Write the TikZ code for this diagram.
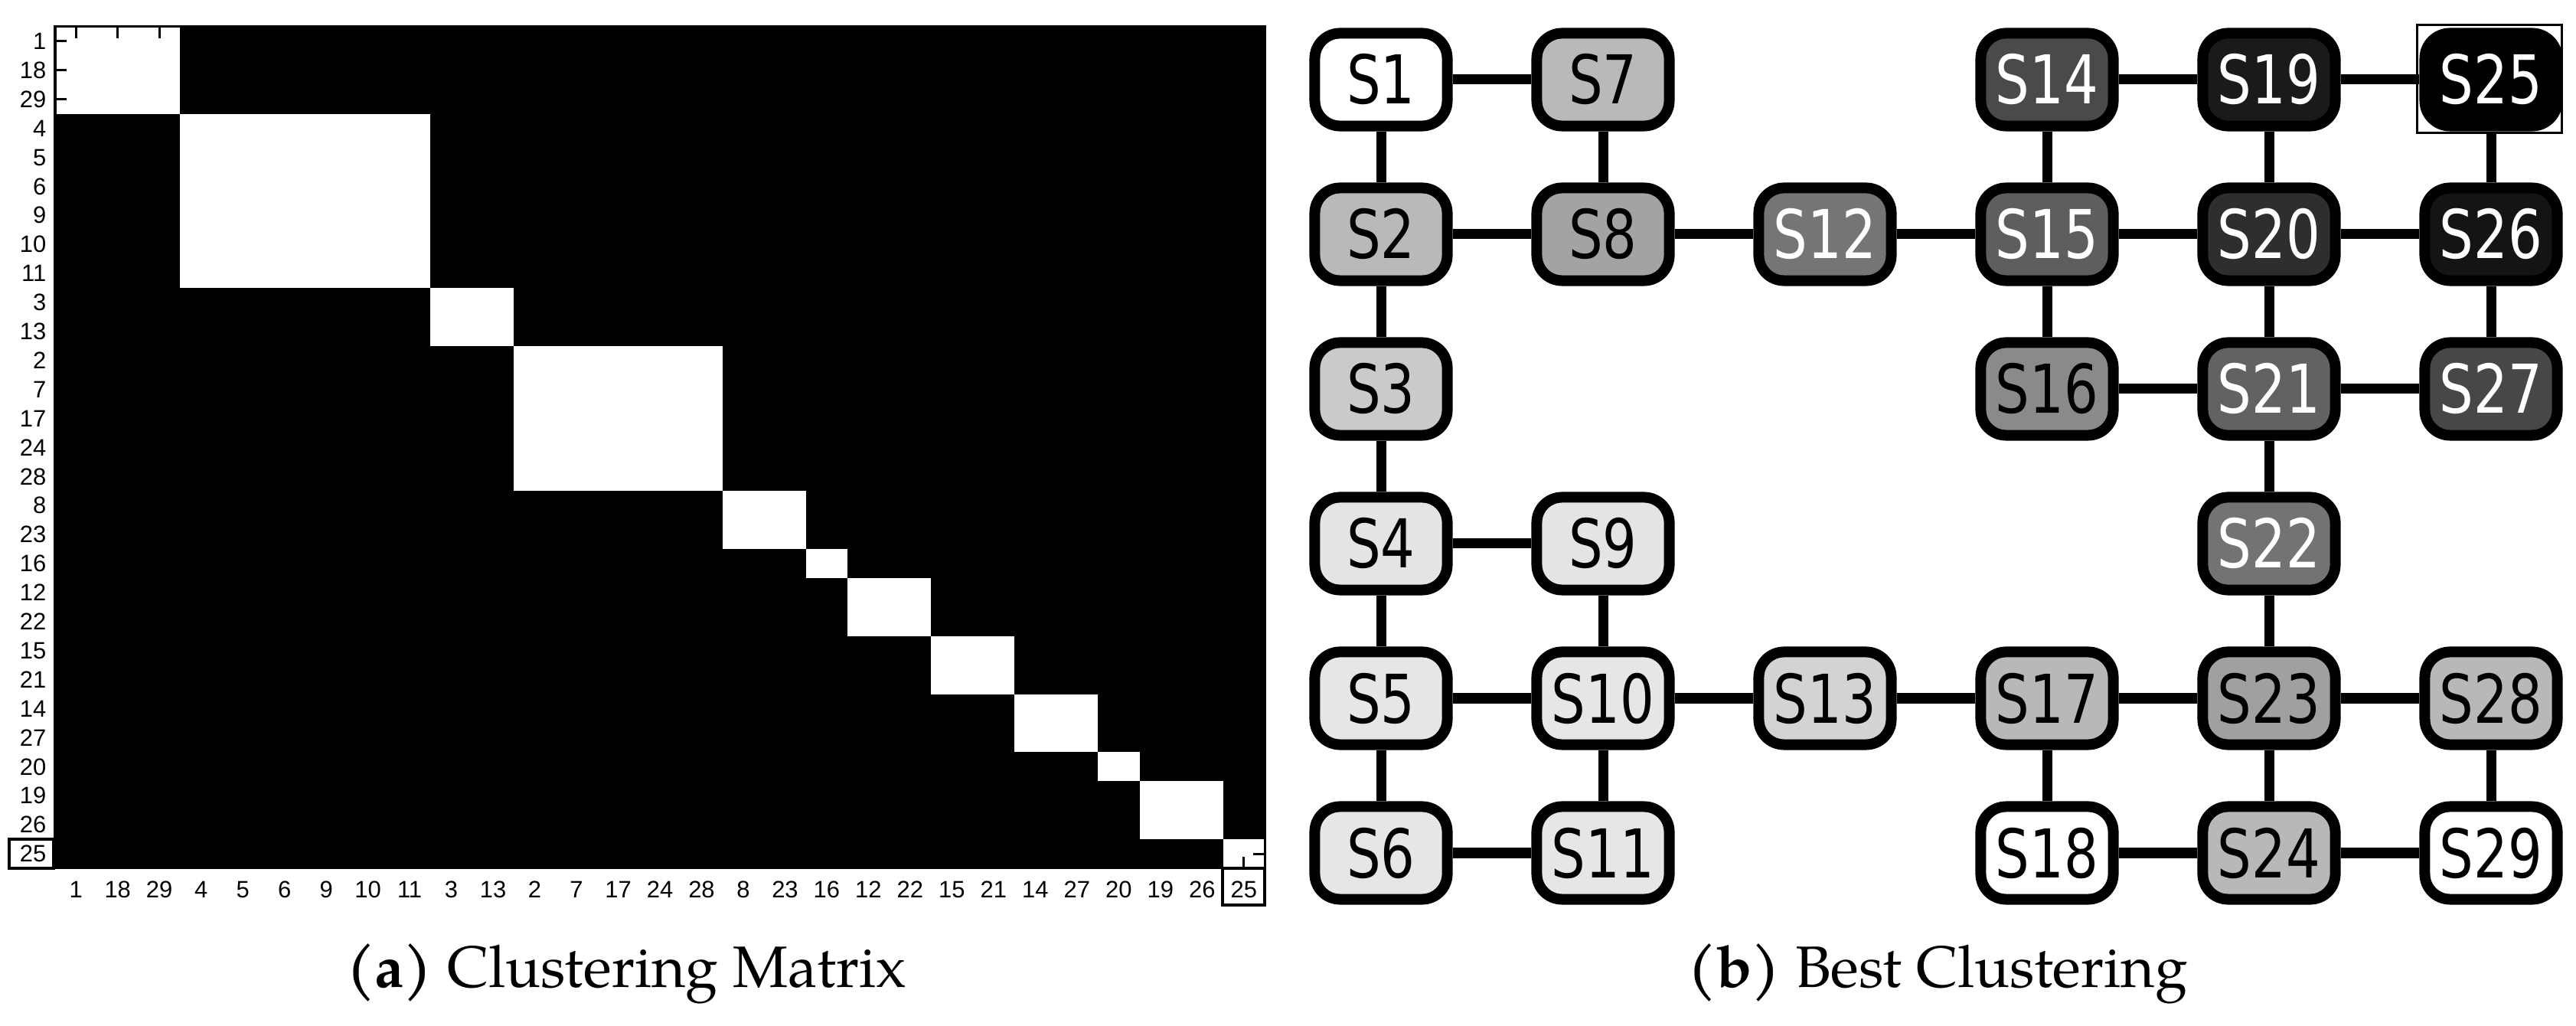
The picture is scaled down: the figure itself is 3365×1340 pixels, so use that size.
\documentclass[tikz,border=0pt]{standalone}
\usepackage{fontspec}
\setmainfont{DejaVu Sans}
\newfontfamily\nodefont{DejaVu Sans}[FakeStretch=0.8]
\newfontfamily\labfont{Liberation Sans}
\newfontfamily\capfont{TeX Gyre Pagella}
\usetikzlibrary{calc}
\tikzset{
  gl/.style={fill={rgb,255:red,#1;green,#1;blue,#1}},
  sn/.style={draw=black, line width=0.14cm, rounded corners=0.33cm,
    minimum width=1.73cm, minimum height=1.21cm, inner sep=0pt,
    font=\nodefont\fontsize{25}{27}\selectfont, text=black},
  wt/.style={text=white},
  ed/.style={line width=0.13cm, black},
  lab/.style={inner sep=0pt, font=\labfont\fontsize{8.8}{9}\selectfont},
  capstyle/.style={inner sep=0pt, font=\capfont\fontsize{21.7}{24}\selectfont},
  tick/.style={line width=0.03cm, black},
  hbox/.style={line width=0.035cm, black}
}
\begin{document}
\begin{tikzpicture}[x=0.01cm, y=-0.01cm]
\useasboundingbox (0,0) rectangle (3365,1340);
\def\cw{54.483}
\def\rh{37.897}
% ---------- clustering matrix ----------
\fill[black] (72,35) rectangle (1652,1134);
\foreach \a/\b in {0/3,3/9,9/11,11/16,16/18,18/19,19/21,21/23,23/25,25/26,26/28,28/29}
  \fill[white] ({72+\a*\cw},{35+\a*\rh}) rectangle ({72+\b*\cw},{35+\b*\rh});
\foreach \i in {0,...,28} {
  \draw[tick] ({72+(\i+0.5)*\cw},35) -- ++(0,15);
  \draw[tick] ({72+(\i+0.5)*\cw},1134) -- ++(0,-15);
  \draw[tick] (72,{35+(\i+0.5)*\rh}) -- ++(15,0);
  \draw[tick] (1652,{35+(\i+0.5)*\rh}) -- ++(-15,0);
}
\draw[tick] (72,35) rectangle (1652,1134);
\foreach \lab [count=\i from 0] in {1,18,29,4,5,6,9,10,11,3,13,2,7,17,24,28,8,23,16,12,22,15,21,14,27,20,19,26,25} {
  \node[lab, anchor=east] (l\i) at (61,{35+(\i+0.5)*\rh}) {\lab};
  \node[lab] (b\i) at ({72+(\i+0.5)*\cw},1162) {\lab};
}
\draw[hbox] (12,1096) rectangle (70,1134);
\draw[hbox] (1597,1134) rectangle (1652,1182);
% ---------- graph ----------
% columns 1804 2094 2384 2674 2964 3254 ; rows 104 306 508 710 912 1114
\node[sn, gl=255] (n1) at (1804,104) {S1};
\node[sn, gl=185] (n2) at (1804,306) {S2};
\node[sn, gl=202] (n3) at (1804,508) {S3};
\node[sn, gl=228] (n4) at (1804,710) {S4};
\node[sn, gl=230] (n5) at (1804,912) {S5};
\node[sn, gl=230] (n6) at (1804,1114) {S6};
\node[sn, gl=185] (n7) at (2094,104) {S7};
\node[sn, gl=163] (n8) at (2094,306) {S8};
\node[sn, gl=228] (n9) at (2094,710) {S9};
\node[sn, gl=230] (n10) at (2094,912) {S10};
\node[sn, gl=230] (n11) at (2094,1114) {S11};
\node[sn, gl=117, wt] (n12) at (2384,306) {S12};
\node[sn, gl=211] (n13) at (2384,912) {S13};
\node[sn, gl=74, wt] (n14) at (2674,104) {S14};
\node[sn, gl=94, wt] (n15) at (2674,306) {S15};
\node[sn, gl=138] (n16) at (2674,508) {S16};
\node[sn, gl=184] (n17) at (2674,912) {S17};
\node[sn, gl=255] (n18) at (2674,1114) {S18};
\node[sn, gl=26, wt] (n19) at (2964,104) {S19};
\node[sn, gl=46, wt] (n20) at (2964,306) {S20};
\node[sn, gl=98, wt] (n21) at (2964,508) {S21};
\node[sn, gl=115, wt] (n22) at (2964,710) {S22};
\node[sn, gl=160] (n23) at (2964,912) {S23};
\node[sn, gl=184] (n24) at (2964,1114) {S24};
\node[sn, gl=0, wt] (n25) at (3254,104) {S25};
\node[sn, gl=20, wt] (n26) at (3254,306) {S26};
\node[sn, gl=71, wt] (n27) at (3254,508) {S27};
\node[sn, gl=184] (n28) at (3254,912) {S28};
\node[sn, gl=255] (n29) at (3254,1114) {S29};
\foreach \p/\q in {1/7,14/19,19/25,2/8,8/12,12/15,15/20,20/26,16/21,21/27,4/9,
  5/10,10/13,13/17,17/23,23/28,6/11,18/24,24/29,
  1/2,2/3,3/4,4/5,5/6,7/8,9/10,10/11,14/15,15/16,17/18,
  19/20,20/21,21/22,22/23,23/24,25/26,26/27,28/29}
  \draw[ed] (n\p) -- (n\q);
\draw[hbox] ($(n25.north west)+(-3,-4)$) rectangle ($(n25.south east)+(-1,2)$);
% ---------- captions ----------
\node[capstyle, anchor=base] (capa) at (818,1290) {\textbf{(a)} Clustering Matrix};
\node[capstyle, anchor=base] (capb) at (2531,1290) {\textbf{(b)} Best Clustering};
\end{tikzpicture}
\end{document}
